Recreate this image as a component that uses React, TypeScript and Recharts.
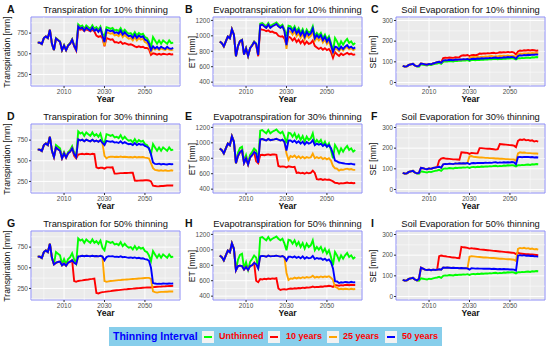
import { Fragment } from 'react';
import { LineChart, Line, XAxis, YAxis, CartesianGrid, ReferenceLine, ReferenceArea } from 'recharts';

const FONT = '"Liberation Sans", Arial, Helvetica, sans-serif';

// yearly values 1997..2064
const startYear = 1997;
const years = Array.from({ length: 68 }, (_, i) => startYear + i);

const xTicks = [2010, 2030, 2050];
const xMinor = [2000, 2020, 2040, 2060];
const xDomain = [1993.65, 2067.35];

// ---- Transpiration ----
const transpUnthinned = [635, 635, 619, 690, 710, 690, 790, 620, 545, 690, 670, 650, 545, 605, 545, 605, 627, 676, 600, 553,
  855, 830, 843, 802, 843, 822, 802, 843, 802, 822, 790, 830, 742, 710, 822, 814, 802, 814, 782, 790,
  774, 810, 762, 790, 762, 742, 750, 722, 762, 722, 750, 732, 742, 702, 690, 650, 581, 702, 661, 621,
  661, 621, 661, 641, 621, 661, 629, 635];
// 50 years from 2005, 10 years from 2015, 25 years from 2030
const tA50 = [545, 685, 665, 645, 545, 600, 545, 600, 622, 670, 595, 548, 830, 805, 818, 778, 818, 798, 778, 818, 778, 798, 765, 805, 718, 640, 790, 782, 772, 782, 752, 760, 744, 780, 732, 760, 732, 712, 720, 692, 732, 692, 720, 702, 712, 672, 660, 620, 545, 590, 565, 585, 560, 585, 570, 560, 585, 565, 560, 570];
const tA10 = [590, 540, 800, 790, 800, 775, 795, 785, 770, 790, 770, 720, 705, 715, 690, 590, 690, 680, 670, 675, 640, 640, 630, 645, 620, 630, 620, 610, 615, 605, 590, 580, 590, 580, 585, 570, 570, 555, 485, 505, 500, 490, 500, 490, 500, 495, 490, 500, 492, 495];
const tA25 = [600, 760, 752, 742, 752, 722, 730, 714, 750, 702, 730, 702, 682, 690, 662, 702, 662, 690, 672, 682, 642, 630, 590, 520, 570, 550, 565, 545, 565, 552, 545, 565, 550, 545, 552];

const tD50 = [545, 660, 640, 620, 530, 590, 540, 590, 610, 650, 580, 545, 760, 745, 755, 735, 755, 745, 735, 755, 735, 745, 730, 750, 715, 690, 740, 735, 730, 735, 720, 725, 715, 735, 710, 725, 710, 700, 705, 690, 715, 690, 705, 695, 700, 680, 670, 650, 580, 480, 462, 460, 465, 455, 462, 458, 455, 462, 458, 460];
const tD10 = [560, 530, 575, 580, 585, 578, 585, 582, 578, 585, 580, 420, 410, 415, 415, 405, 420, 420, 418, 420, 345, 345, 348, 350, 350, 352, 352, 354, 355, 356, 260, 258, 260, 262, 262, 265, 265, 262, 250, 200, 195, 190, 192, 195, 195, 198, 200, 200, 202, 200];
const tD25 = [560, 530, 545, 548, 550, 545, 548, 545, 552, 545, 548, 545, 542, 545, 540, 548, 540, 545, 542, 545, 538, 535, 528, 470, 410, 390, 385, 380, 385, 378, 385, 380, 378, 385, 380];

const tG50 = [540, 560, 570, 575, 530, 550, 525, 560, 575, 590, 560, 545, 638, 640, 645, 640, 645, 642, 640, 645, 640, 642, 638, 645, 635, 590, 630, 640, 638, 640, 632, 635, 630, 638, 628, 632, 626, 622, 625, 618, 625, 615, 620, 612, 615, 605, 600, 585, 500, 315, 310, 305, 308, 305, 310, 308, 306, 310, 308, 310];
const tG10 = [340, 330, 340, 345, 348, 352, 355, 358, 362, 365, 370, 195, 190, 200, 205, 208, 212, 215, 218, 222, 225, 228, 230, 233, 236, 238, 240, 243, 245, 247, 250, 252, 254, 256, 258, 260, 262, 263, 262, 266, 268, 270, 272, 273, 275, 276, 278, 279, 280, 281];
const tG25 = [340, 330, 335, 340, 342, 345, 348, 350, 352, 355, 356, 358, 360, 362, 364, 366, 368, 370, 372, 374, 376, 378, 378, 365, 215, 205, 200, 205, 208, 208, 210, 210, 212, 212, 212];

// ---- Evapotranspiration ----
const etUnthinned = [925, 906, 863, 928, 992, 970, 1085, 1013, 735, 870, 935, 950, 760, 840, 742, 845, 880, 925, 900, 755,
  1157, 1166, 1144, 1123, 1166, 1123, 1144, 1157, 1174, 1144, 1123, 1144, 1080, 994, 1131, 1123, 1080, 1123, 1058, 1101,
  1037, 1088, 1015, 1080, 1037, 1058, 1123, 994, 1037, 1002, 1037, 972, 1015, 951, 994, 908, 800, 972, 929, 865,
  929, 886, 929, 959, 908, 929, 886, 908];
const eB50 = [735, 865, 930, 945, 758, 836, 740, 840, 875, 920, 895, 752, 1137, 1146, 1124, 1103, 1146, 1103, 1124, 1137, 1154, 1124, 1103, 1124, 1060, 880, 1100, 1095, 1050, 1095, 1030, 1072, 1010, 1060, 988, 1052, 1010, 1030, 1095, 966, 1010, 975, 1010, 945, 988, 925, 966, 880, 790, 860, 850, 820, 860, 830, 860, 880, 845, 860, 835, 850];
const eB10 = [880, 735, 1088, 1080, 1075, 1060, 1070, 1050, 1055, 1040, 1035, 1000, 990, 995, 965, 880, 990, 975, 940, 970, 920, 950, 905, 940, 890, 925, 895, 905, 940, 870, 850, 830, 845, 820, 840, 815, 830, 790, 715, 790, 760, 740, 770, 750, 765, 780, 760, 770, 755, 760];
const eB25 = [830, 1060, 1055, 1015, 1060, 995, 1035, 975, 1025, 955, 1020, 975, 995, 1060, 935, 975, 940, 975, 915, 955, 895, 935, 850, 770, 835, 825, 800, 840, 810, 840, 855, 825, 840, 815, 830];

const eE50 = [735, 830, 880, 900, 740, 800, 720, 810, 840, 880, 860, 740, 1045, 1050, 1040, 1030, 1050, 1035, 1040, 1045, 1052, 1040, 1030, 1040, 1010, 900, 1030, 1030, 1010, 1030, 1000, 1020, 990, 1015, 980, 1010, 990, 1000, 1035, 970, 990, 975, 990, 960, 980, 950, 970, 930, 860, 770, 760, 745, 740, 735, 730, 728, 725, 730, 722, 720];
const eE10 = [760, 735, 840, 845, 840, 845, 850, 842, 848, 850, 845, 700, 690, 695, 692, 680, 695, 690, 685, 690, 610, 615, 605, 612, 600, 615, 605, 612, 640, 610, 530, 525, 530, 520, 528, 520, 525, 515, 500, 482, 480, 470, 478, 475, 480, 485, 478, 482, 476, 480];
const eE25 = [860, 780, 830, 815, 835, 805, 825, 800, 820, 800, 815, 805, 810, 860, 800, 815, 800, 815, 790, 805, 785, 800, 770, 700, 670, 665, 640, 655, 650, 660, 665, 655, 660, 650, 650];

const eH50 = [735, 790, 795, 790, 745, 780, 740, 790, 800, 830, 815, 760, 915, 920, 918, 910, 925, 915, 918, 920, 925, 918, 912, 920, 905, 860, 910, 912, 900, 915, 895, 910, 890, 915, 885, 905, 890, 895, 920, 880, 895, 885, 890, 870, 885, 860, 875, 840, 760, 595, 590, 570, 580, 575, 585, 580, 575, 585, 578, 580];
const eH10 = [600, 580, 620, 615, 625, 620, 628, 622, 630, 625, 632, 500, 480, 488, 490, 485, 495, 498, 495, 502, 500, 505, 502, 510, 505, 512, 510, 515, 525, 515, 520, 518, 525, 522, 530, 528, 535, 530, 520, 545, 540, 535, 542, 538, 545, 548, 542, 548, 545, 545];
const eH25 = [700, 610, 630, 625, 640, 630, 640, 632, 645, 635, 648, 640, 645, 665, 640, 650, 642, 655, 645, 655, 648, 658, 640, 610, 520, 510, 490, 495, 490, 495, 492, 488, 495, 490, 492];

// ---- Soil evaporation ----
const seUnthinned = [80, 77, 78, 85, 88, 90, 82, 78, 76, 88, 86, 84, 82, 86, 84, 88, 90, 92, 95, 90,
  100, 102, 101, 104, 103, 102, 105, 104, 106, 105, 107, 106, 108, 104, 108, 109, 108, 110, 109, 111,
  110, 112, 111, 113, 112, 114, 115, 112, 114, 113, 116, 115, 117, 116, 118, 116, 112, 118, 117, 119,
  118, 120, 121, 119, 122, 121, 123, 122];
const sC50 = [80, 92, 90, 88, 86, 90, 88, 92, 95, 98, 100, 95, 106, 108, 107, 110, 109, 108, 111, 110, 112, 111, 113, 112, 114, 110, 114, 115, 114, 116, 115, 117, 116, 118, 117, 119, 118, 120, 121, 118, 120, 119, 122, 121, 123, 122, 124, 122, 115, 128, 132, 130, 133, 132, 134, 133, 135, 134, 136, 135];
const sC10 = [100, 98, 118, 120, 119, 121, 120, 119, 122, 121, 123, 130, 132, 131, 133, 128, 132, 133, 132, 134, 140, 139, 141, 140, 142, 141, 143, 144, 141, 143, 146, 145, 147, 146, 148, 146, 148, 145, 135, 150, 155, 153, 156, 155, 157, 155, 157, 156, 154, 155];
const sC25 = [118, 122, 123, 122, 124, 123, 125, 124, 126, 125, 127, 128, 125, 127, 126, 129, 128, 130, 129, 131, 129, 130, 128, 122, 136, 140, 138, 141, 140, 142, 141, 143, 142, 143, 142];

const sF50 = [80, 105, 103, 100, 98, 102, 100, 104, 106, 108, 110, 105, 122, 124, 123, 125, 124, 123, 126, 125, 127, 126, 127, 126, 128, 122, 127, 128, 127, 129, 128, 129, 128, 130, 129, 130, 129, 131, 132, 129, 131, 130, 132, 131, 132, 131, 133, 131, 122, 157, 158, 156, 158, 157, 158, 156, 157, 155, 156, 155];
const sF10 = [140, 150, 152, 150, 149, 148, 147, 146, 146, 145, 144, 180, 179, 178, 177, 172, 177, 176, 175, 175, 200, 200, 199, 198, 197, 197, 196, 195, 193, 195, 220, 219, 218, 217, 216, 215, 214, 212, 205, 235, 242, 240, 243, 238, 240, 236, 238, 232, 235, 232];
const sF25 = [160, 162, 158, 157, 156, 155, 155, 154, 153, 153, 152, 152, 151, 150, 150, 149, 149, 148, 147, 147, 146, 146, 145, 138, 175, 180, 178, 179, 177, 176, 176, 175, 174, 174, 173];

const sI50 = [85, 140, 135, 130, 128, 130, 127, 130, 128, 130, 132, 130, 140, 139, 140, 139, 138, 139, 138, 138, 137, 138, 137, 137, 136, 130, 137, 136, 135, 136, 135, 135, 134, 135, 134, 134, 133, 134, 133, 132, 133, 132, 133, 132, 132, 131, 131, 130, 125, 198, 200, 198, 200, 197, 198, 196, 197, 195, 194, 193];
const sI10 = [195, 198, 196, 195, 193, 192, 190, 189, 188, 186, 185, 240, 238, 237, 235, 232, 234, 232, 231, 230, 228, 227, 226, 225, 224, 223, 222, 221, 220, 219, 218, 217, 216, 215, 214, 213, 212, 211, 205, 212, 208, 207, 206, 205, 205, 204, 203, 202, 201, 200];
const sI25 = [192, 195, 194, 193, 192, 191, 190, 189, 189, 188, 187, 186, 186, 185, 184, 183, 183, 182, 181, 180, 180, 179, 178, 172, 230, 235, 233, 236, 232, 234, 230, 232, 228, 230, 227];

const legendLabels = ['Unthinned', '10 years', '25 years', '50 years'];
const series = [
  { key: 'unthinned', color: '#00FF00' },
  { key: 'y10', color: '#FF0000' },
  { key: 'y25', color: '#FFA500' },
  { key: 'y50', color: '#0000FF' },
];

// scenarios share the history until their own thinning departs from it
function build(unthinned: number[], from2005: number[], from2015: number[], from2030: number[]) {
  const y50 = [...unthinned.slice(0, 8), ...from2005];
  const y10 = [...y50.slice(0, 18), ...from2015];
  const y25 = [...y50.slice(0, 33), ...from2030];
  return years.map((year, i) => ({ year, unthinned: unthinned[i], y10: y10[i], y25: y25[i], y50: y50[i] }));
}

const transpAxis = { domain: [110, 945], ticks: [250, 500, 750], minor: [125, 375, 625, 875] };
const etAxis = { domain: [350, 1244], ticks: [400, 600, 800, 1000, 1200], minor: [500, 700, 900, 1100] };
const seAxis = { domain: [-17, 317], ticks: [0, 100, 200, 300], minor: [50, 150, 250] };

const panels = [
  { letter: 'A', col: 0, row: 0, title: 'Transpiration for 10% thinning', yLabel: 'Transpiration [mm]', axis: transpAxis, rows: build(transpUnthinned, tA50, tA10, tA25) },
  { letter: 'B', col: 1, row: 0, title: 'Evapotranspiration for 10% thinning', yLabel: 'ET [mm]', axis: etAxis, rows: build(etUnthinned, eB50, eB10, eB25) },
  { letter: 'C', col: 2, row: 0, title: 'Soil Evaporation for 10% thinning', yLabel: 'SE [mm]', axis: seAxis, rows: build(seUnthinned, sC50, sC10, sC25) },
  { letter: 'D', col: 0, row: 1, title: 'Transpiration for 30% thinning', yLabel: 'Transpiration [mm]', axis: transpAxis, rows: build(transpUnthinned, tD50, tD10, tD25) },
  { letter: 'E', col: 1, row: 1, title: 'Evapotranspiration for 30% thinning', yLabel: 'ET [mm]', axis: etAxis, rows: build(etUnthinned, eE50, eE10, eE25) },
  { letter: 'F', col: 2, row: 1, title: 'Soil Evaporation for 30% thinning', yLabel: 'SE [mm]', axis: seAxis, rows: build(seUnthinned, sF50, sF10, sF25) },
  { letter: 'G', col: 0, row: 2, title: 'Transpiration for 50% thinning', yLabel: 'Transpiration [mm]', axis: transpAxis, rows: build(transpUnthinned, tG50, tG10, tG25) },
  { letter: 'H', col: 1, row: 2, title: 'Evapotranspiration for 50% thinning', yLabel: 'ET [mm]', axis: etAxis, rows: build(etUnthinned, eH50, eH10, eH25) },
  { letter: 'I', col: 2, row: 2, title: 'Soil Evaporation for 50% thinning', yLabel: 'SE [mm]', axis: seAxis, rows: build(seUnthinned, sI50, sI10, sI25) },
];

const COL_X = [0, 182, 365];
const ROW_Y = [0, 107, 214];
const LETTER_X = [7, 3, 6];
const YLABEL_X = [7, 10, 8];
const PLOT_CX = 105.5;
const LEG_KEY_X = [93, 159, 218, 276];
const LEG_TEXT_X = [110, 177, 234, 293];

const tickStyle = { fontSize: 6.5, fill: '#4D4D4D', fontFamily: FONT };

function Panel({ p }: { p: typeof panels[number] }) {
  const { axis } = p;
  return (
    <div style={{ position: 'absolute', left: COL_X[p.col], top: ROW_Y[p.row], width: 183, height: 107 }}>
      <LineChart width={183} height={107} data={p.rows} margin={{ top: 17, right: 3, bottom: 0, left: 0 }}>
        <CartesianGrid fill="#EBEBEB" fillOpacity={1} stroke="#FFFFFF" strokeWidth={1} />
        {xMinor.map(v => <ReferenceLine key={'x' + v} x={v} stroke="#FFFFFF" strokeWidth={0.5} />)}
        {axis.minor.map(v => <ReferenceLine key={'y' + v} y={v} stroke="#FFFFFF" strokeWidth={0.5} />)}
        <XAxis dataKey="year" type="number" domain={xDomain} ticks={xTicks} interval={0} allowDataOverflow
          height={21} tickSize={2} tickMargin={1} axisLine={false} tickLine={{ stroke: '#333333' }} tick={tickStyle} />
        <YAxis type="number" domain={axis.domain} ticks={axis.ticks} interval={0} allowDataOverflow
          width={31} tickSize={2} tickMargin={1} axisLine={false} tickLine={{ stroke: '#333333' }} tick={tickStyle} />
        {series.map(s => (
          <Line key={s.key} type="linear" dataKey={s.key} stroke={s.color} strokeWidth={1.9}
            dot={false} activeDot={false} isAnimationActive={false} />
        ))}
        <ReferenceArea x1={xDomain[0]} x2={xDomain[1]} y1={axis.domain[0]} y2={axis.domain[1]}
          fill="none" stroke="#8C8CF5" strokeWidth={1} />
      </LineChart>
      <div style={{ position: 'absolute', left: LETTER_X[p.col], top: 3, fontSize: 10.5, fontWeight: 700, lineHeight: '12px' }}>{p.letter}</div>
      <div style={{ position: 'absolute', left: PLOT_CX, top: 3.5, transform: 'translateX(-50%)', fontSize: 9.4, lineHeight: '11px', whiteSpace: 'nowrap' }}>{p.title}</div>
      <div style={{ position: 'absolute', left: YLABEL_X[p.col], top: 51.5, transform: 'translate(-50%, -50%) rotate(-90deg)', fontSize: 8.6, lineHeight: '10px', whiteSpace: 'nowrap' }}>{p.yLabel}</div>
      <div style={{ position: 'absolute', left: PLOT_CX, top: 94, transform: 'translateX(-50%)', fontSize: 8.6, fontWeight: 700, lineHeight: '10px' }}>Year</div>
    </div>
  );
}

export default function App() {
  return (
    <div style={{ position: 'absolute', left: 0, top: 0, width: 550, height: 350, background: '#FFFFFF', fontFamily: FONT, color: '#111111' }}>
      {panels.map(p => <Panel key={p.letter} p={p} />)}
      <div style={{ position: 'absolute', left: 109, top: 327, width: 333, height: 19, background: '#87CEEB' }}>
        <span style={{ position: 'absolute', left: 4, top: 0, lineHeight: '19px', fontSize: 10.5, fontWeight: 700, color: '#0000FF', whiteSpace: 'nowrap' }}>Thinning Interval</span>
        {legendLabels.map((label, i) => (
          <Fragment key={label}>
            <div style={{ position: 'absolute', left: LEG_KEY_X[i], top: 3.5, width: 12, height: 12, background: '#F2F2F2' }}>
              <div style={{ position: 'absolute', left: 2, right: 2, top: 5, height: 2, background: series[i].color }} />
            </div>
            <span style={{ position: 'absolute', left: LEG_TEXT_X[i], top: 0, lineHeight: '19px', fontSize: 9, fontWeight: 700, color: '#FF0000', whiteSpace: 'nowrap' }}>{label}</span>
          </Fragment>
        ))}
      </div>
    </div>
  );
}
